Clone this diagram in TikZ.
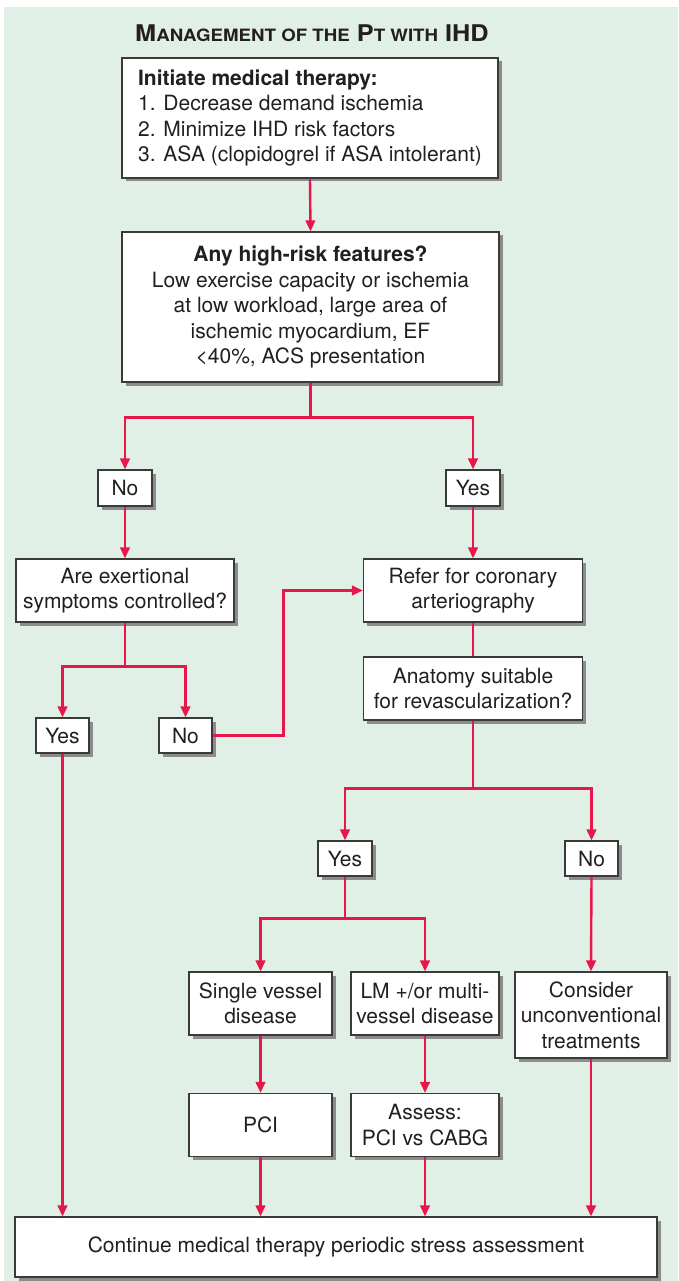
\documentclass[tikz,border=0pt]{standalone}
\usepackage{fontspec}
\setmainfont{TeX Gyre Heros}
\usetikzlibrary{arrows.meta,shadows}
\definecolor{bg}{HTML}{E1F0E6}
\definecolor{linkred}{HTML}{E8174B}
\definecolor{txt}{HTML}{231F20}
\definecolor{frame}{HTML}{3A3A3A}
\begin{document}
\begin{tikzpicture}[x=1pt,y=1pt,
  box/.style={draw=frame, line width=1.1pt, fill=white, text=txt, inner sep=0pt,
    align=center, font=\fontsize{21}{25.5}\selectfont,
    drop shadow={shadow xshift=3.5pt, shadow yshift=-3.5pt, fill=black!45, opacity=1}},
  conn/.style={draw=linkred, line width=2.4pt},
  arr/.style={conn, -{Triangle[length=11pt,width=9.5pt]}}
]
\useasboundingbox (0,0) rectangle (678,-1281);
\fill[bg] (4,-7) rectangle (678,-1281);

\node[text=txt] (title) at (312,-33) {\scalebox{1.1}[1]{\bfseries\fontsize{23}{27}\selectfont M{\fontsize{17}{20}\selectfont ANAGEMENT OF THE} P{\fontsize{17}{20}\selectfont T WITH} IHD}};

\node[box, minimum width=376pt, minimum height=120pt, align=left] (b1) at (310,-118)
  {\textbf{Initiate medical therapy:}\\1. Decrease demand ischemia\\2. Minimize IHD risk factors\\3. ASA (clopidogrel if ASA intolerant)};
\node[box, minimum width=377pt, minimum height=150pt] (b2) at (310.5,-307)
  {\textbf{Any high-risk features?}\\Low exercise capacity or ischemia\\at low workload, large area of\\ischemic myocardium, EF\\<40\%, ACS presentation};
\node[box, minimum width=54pt, minimum height=36pt] (no1) at (125,-488) {No};
\node[box, minimum width=54pt, minimum height=36pt] (yes1) at (473,-488) {Yes};
\node[box, minimum width=218pt, minimum height=63pt] (exer) at (125,-590.5) {Are exertional\\symptoms controlled?};
\node[box, minimum width=219pt, minimum height=63pt] (refer) at (473,-590.5) {Refer for coronary\\arteriography};
\node[box, minimum width=53pt, minimum height=35pt] (yes2) at (62.5,-735.5) {Yes};
\node[box, minimum width=53pt, minimum height=35pt] (no2) at (185.5,-735.5) {No};
\node[box, minimum width=219pt, minimum height=63pt] (anat) at (473,-688.5) {Anatomy suitable\\for revascularization?};
\node[box, minimum width=54pt, minimum height=35pt] (yes3) at (345,-858.5) {Yes};
\node[box, minimum width=53pt, minimum height=35pt] (no3) at (591.5,-858.5) {No};
\node[box, minimum width=143pt, minimum height=63pt] (single) at (260.5,-1003.5) {Single vessel\\disease};
\node[box, minimum width=148pt, minimum height=63pt] (lm) at (425,-1003.5) {LM +/or multi-\\vessel disease};
\node[box, minimum width=152pt, minimum height=86pt] (consider) at (591,-1015) {Consider\\unconventional\\treatments};
\node[box, minimum width=143pt, minimum height=63pt] (pci) at (260.5,-1125) {PCI};
\node[box, minimum width=148pt, minimum height=63pt] (assess) at (425,-1125) {Assess:\\PCI vs CABG};
\node[box, minimum width=642pt, minimum height=60pt] (bot) at (336,-1247) {Continue medical therapy periodic stress assessment};

\draw[arr] (b1.south) -- (b2.north);
\draw[conn] (b2.south) -- ++(0,-35) coordinate (j1);
\draw[arr] (j1) -| (no1.north);
\draw[arr] (j1) -| (yes1.north);
\draw[arr] (no1.south) -- (exer.north);
\draw[arr] (yes1.south) -- (refer.north);
\draw[conn] (exer.south) -- ++(0,-44) coordinate (j2);
\draw[arr] (j2) -| (yes2.north);
\draw[arr] (j2) -| (no2.north);
\draw[arr] (no2.east) -- ++(71,0) |- (refer.west);
\draw[conn] (refer.south) -- (anat.north);
\draw[conn] (anat.south) -- ++(0,-68) coordinate (j3);
\draw[arr] (j3) -| (yes3.north);
\draw[arr] (j3) -| (no3.north);
\draw[conn] (yes3.south) -- ++(0,-42) coordinate (j4);
\draw[arr] (j4) -| (single.north);
\draw[arr] (j4) -| (lm.north);
\draw[arr] (no3.south) -- (consider.north);
\draw[arr] (single.south) -- (pci.north);
\draw[arr] (lm.south) -- (assess.north);
\draw[arr] (yes2.south) -- (yes2.south |- bot.north);
\draw[arr] (pci.south) -- (pci.south |- bot.north);
\draw[arr] (assess.south) -- (assess.south |- bot.north);
\draw[arr] (consider.south) -- (consider.south |- bot.north);
\end{tikzpicture}
\end{document}
